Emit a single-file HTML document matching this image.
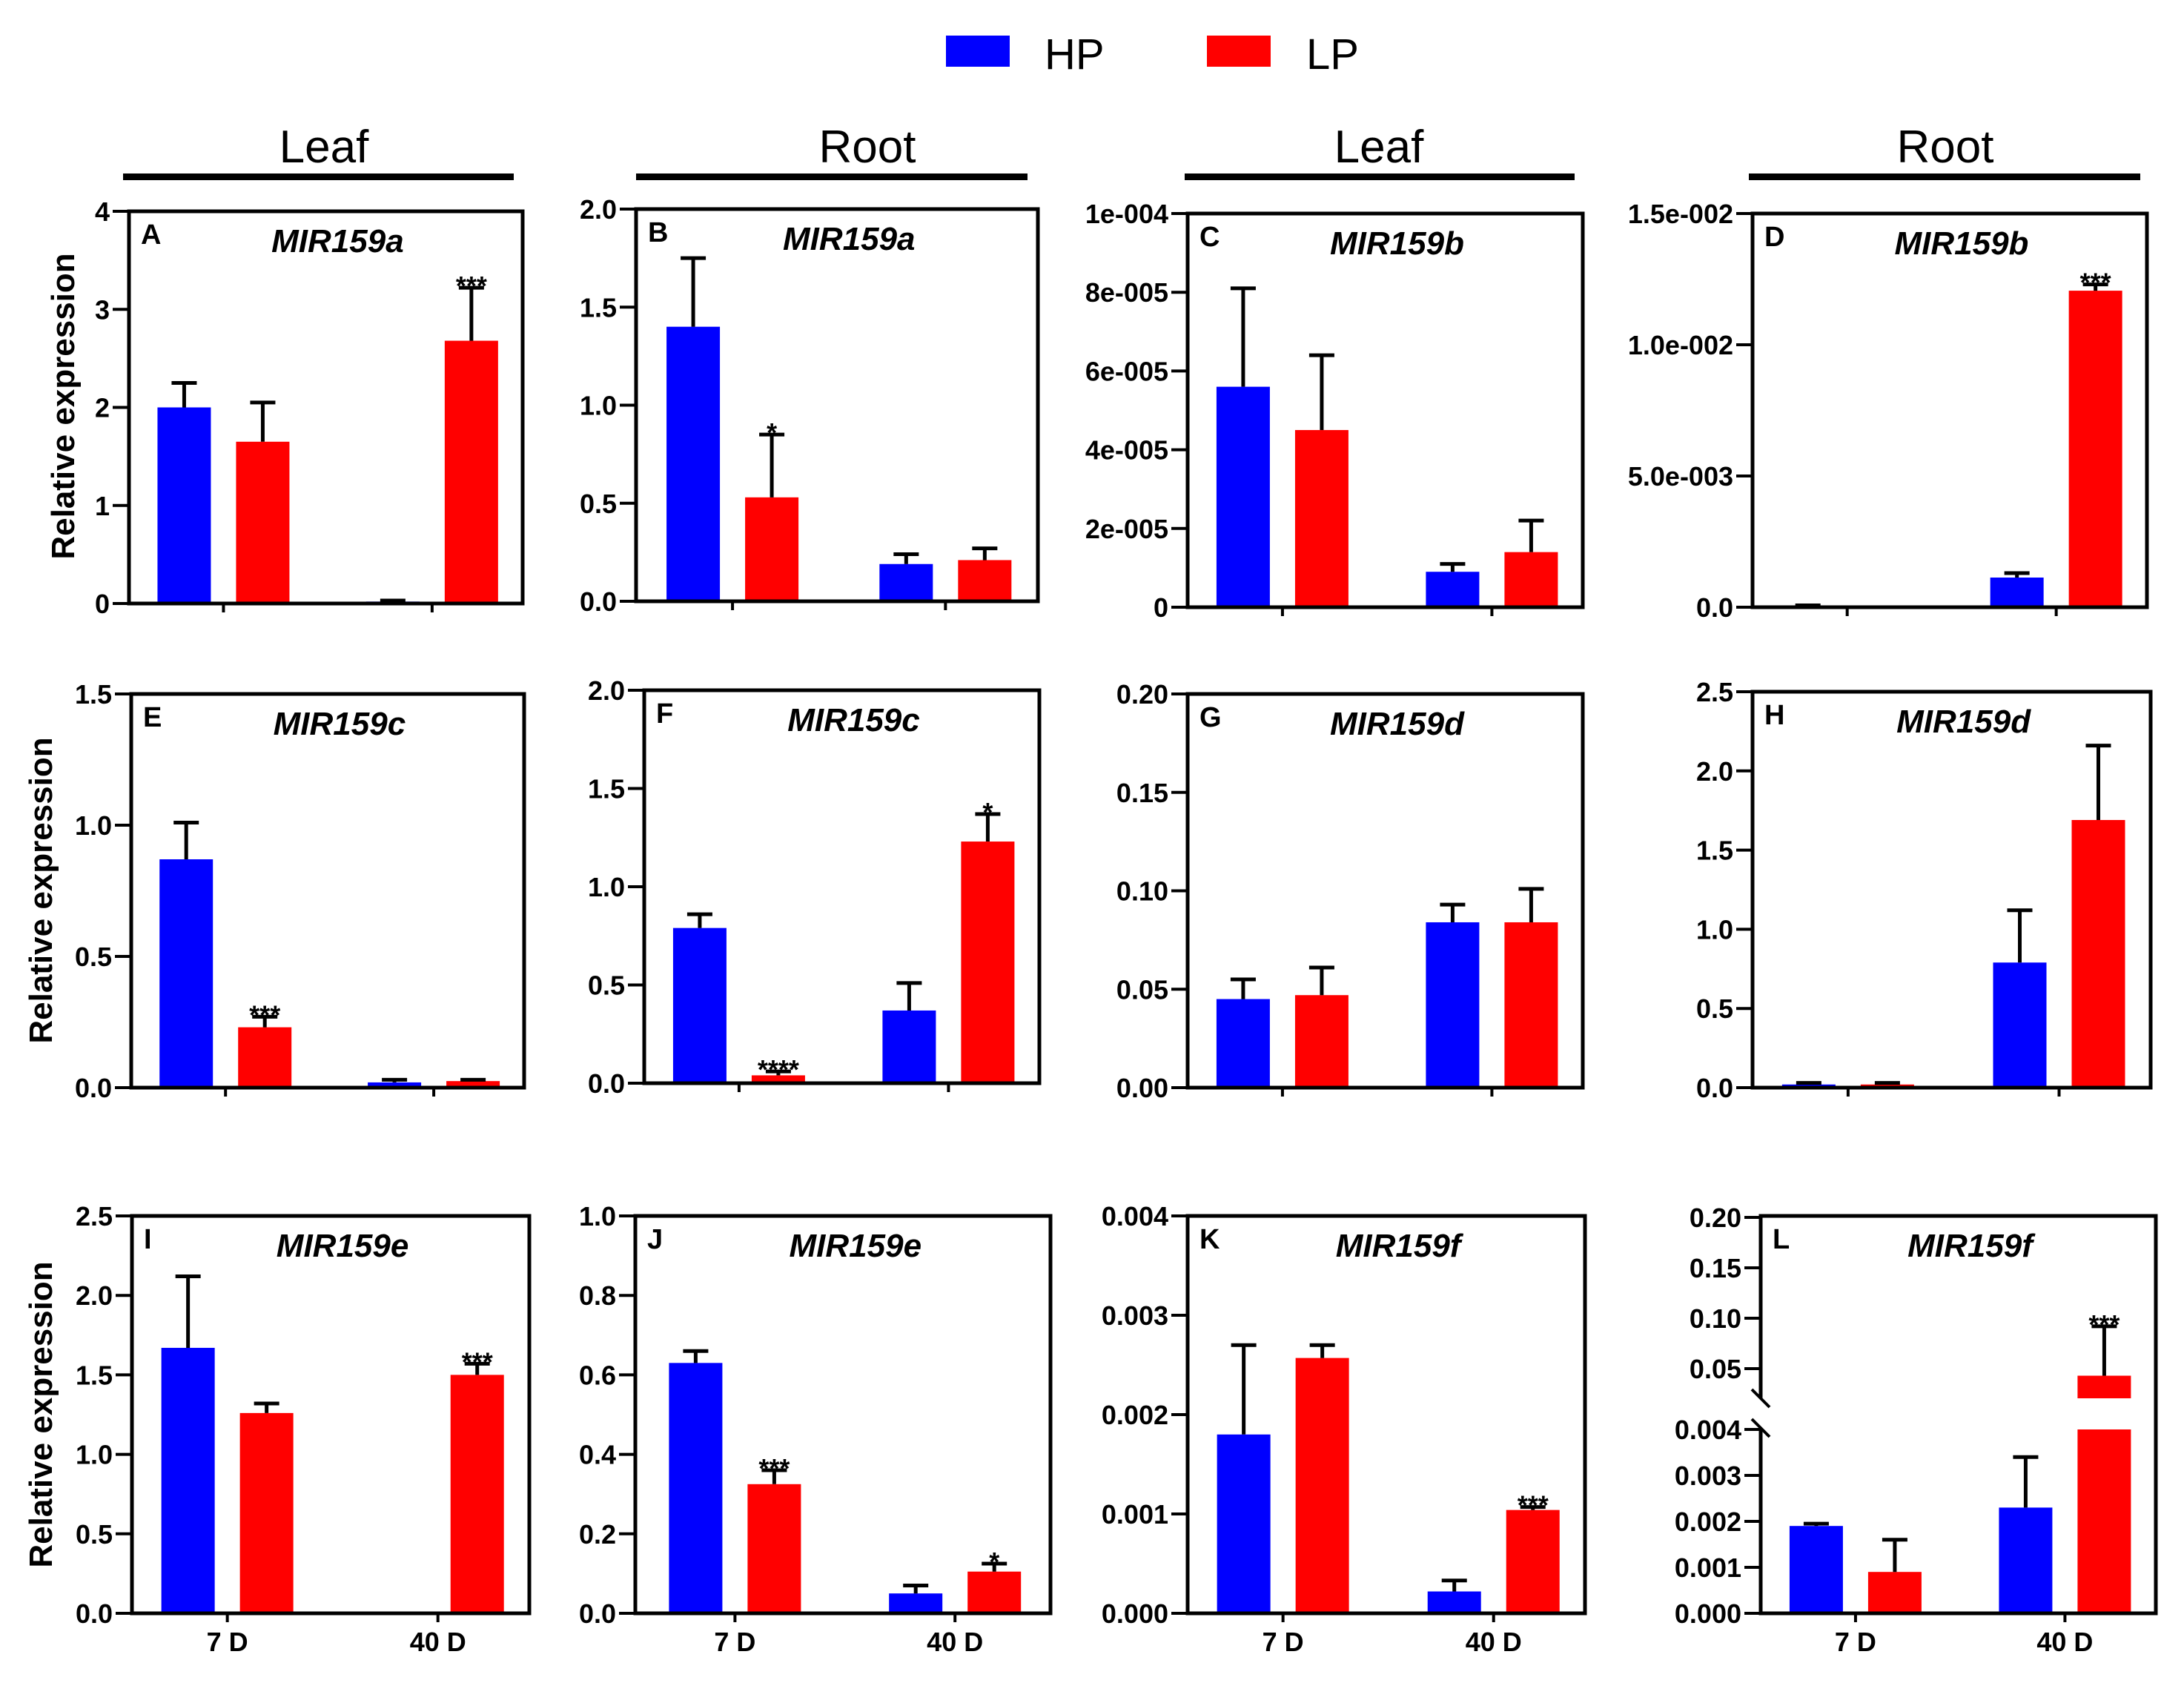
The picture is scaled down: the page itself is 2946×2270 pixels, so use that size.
<!DOCTYPE html>
<html><head><meta charset="utf-8"><style>
html,body{margin:0;padding:0;background:#fff;}
svg{display:block;font-family:"Liberation Sans",Arial,sans-serif;}
</style></head><body>
<svg id="fig" xmlns="http://www.w3.org/2000/svg" width="2946" height="2270" viewBox="0 0 2946 2270">
<g>
<rect x="1276" y="48" width="86" height="42" fill="#0000ff"/>
<text x="1409" y="93" font-size="58">HP</text>
<rect x="1628" y="48" width="86" height="42" fill="#ff0000"/>
<text x="1762" y="93" font-size="58">LP</text>
</g>
<g>
<text x="437" y="219" font-size="62" text-anchor="middle">Leaf</text>
<rect x="166" y="234" width="527" height="9" fill="#000"/>
<text x="1170" y="219" font-size="62" text-anchor="middle">Root</text>
<rect x="858" y="234" width="528" height="9" fill="#000"/>
<text x="1860" y="219" font-size="62" text-anchor="middle">Leaf</text>
<rect x="1598" y="234" width="526" height="9" fill="#000"/>
<text x="2624" y="219" font-size="62" text-anchor="middle">Root</text>
<rect x="2359" y="234" width="528" height="9" fill="#000"/>
</g>
<text transform="translate(100,548) rotate(-90)" font-size="44" font-weight="bold" text-anchor="middle">Relative expression</text>
<text transform="translate(70,1201) rotate(-90)" font-size="44" font-weight="bold" text-anchor="middle">Relative expression</text>
<text transform="translate(70,1908) rotate(-90)" font-size="44" font-weight="bold" text-anchor="middle">Relative expression</text>
</svg>
<script>
// ---- data ----
const panelLetters = ["A","B","C","D","E","F","G","H","I","J","K","L"];
const panelTitles = ["MIR159a","MIR159a","MIR159b","MIR159b","MIR159c","MIR159c","MIR159d","MIR159d","MIR159e","MIR159e","MIR159f","MIR159f"];
const categories = ["7 D","40 D"];
const hpValues = [[2.0,0.02],[1.4,0.19],[5.6e-5,0.9e-5],[0.00005,0.00113],[0.87,0.02],[0.79,0.37],[0.045,0.084],[0.02,0.79],[1.67,0],[0.63,0.05],[0.0018,0.00022],[0.0019,0.0023]];
const hpErrors = [[2.25,0.03],[1.75,0.24],[8.1e-5,1.1e-5],[0.00007,0.0013],[1.01,0.03],[0.86,0.51],[0.055,0.093],[0.03,1.12],[2.12,0],[0.66,0.07],[0.0027,0.00033],[0.00195,0.0034]];
const lpValues = [[1.65,2.68],[0.53,0.21],[4.5e-5,1.4e-5],[0,0.01206],[0.23,0.025],[0.04,1.23],[0.047,0.084],[0.02,1.69],[1.26,1.5],[0.325,0.105],[0.00257,0.00104],[0.0009,0.043]];
const lpErrors = [[2.05,3.22],[0.85,0.27],[6.4e-5,2.2e-5],[0,0.0123],[0.27,0.03],[0.06,1.37],[0.061,0.101],[0.03,2.16],[1.32,1.57],[0.36,0.125],[0.0027,0.00107],[0.0016,0.092]];
const hpSig = [["",""],["",""],["",""],["",""],["",""],["",""],["",""],["",""],["",""],["",""],["",""],["",""]];
const lpSig = [["","***"],["*",""],["",""],["","***"],["***",""],["****","*"],["",""],["",""],["","***"],["***","*"],["","***"],["","***"]];
const yMax = [4,2.0,1e-4,0.015,1.5,2.0,0.20,2.5,2.5,1.0,0.004,0.20];
const tickValues = [[0,1,2,3,4],[0,0.5,1,1.5,2],[0,2e-5,4e-5,6e-5,8e-5,1e-4],[0,0.005,0.01,0.015],[0,0.5,1,1.5],[0,0.5,1,1.5,2],[0,0.05,0.1,0.15,0.2],[0,0.5,1,1.5,2,2.5],[0,0.5,1,1.5,2,2.5],[0,0.2,0.4,0.6,0.8,1.0],[0,0.001,0.002,0.003,0.004],[0,0.001,0.002,0.003,0.004,0.05,0.10,0.15,0.20]];
const tickLabels = [["0","1","2","3","4"],["0.0","0.5","1.0","1.5","2.0"],["0","2e-005","4e-005","6e-005","8e-005","1e-004"],["0.0","5.0e-003","1.0e-002","1.5e-002"],["0.0","0.5","1.0","1.5"],["0.0","0.5","1.0","1.5","2.0"],["0.00","0.05","0.10","0.15","0.20"],["0.0","0.5","1.0","1.5","2.0","2.5"],["0.0","0.5","1.0","1.5","2.0","2.5"],["0.0","0.2","0.4","0.6","0.8","1.0"],["0.000","0.001","0.002","0.003","0.004"],["0.000","0.001","0.002","0.003","0.004","0.05","0.10","0.15","0.20"]];

// ---- layout ----
const boxes = [
 [174,285,705,814],[858,282,1400,811],[1602,288,2135,819],[2364,288,2896,819],
 [177,936,707,1467],[869,931,1402,1461],[1602,936,2135,1467],[2364,933,2901,1467],
 [178,1640,714,2176],[857,1640,1417,2176],[1602,1640,2138,2176],[2375,1640,2908,2176]];
const NS="http://www.w3.org/2000/svg";
const svg=document.getElementById("fig");
function mk(tag,attrs,parent){const e=document.createElementNS(NS,tag);for(const k in attrs)e.setAttribute(k,attrs[k]);(parent||svg).appendChild(e);return e;}

function yScaleL(v){
  if(v<=0.004) return 2176 - v/0.004*(2176-1928);
  return 1846 - (v-0.05)*1360;
}

for(let p=0;p<12;p++){
  const [L,T,R,B]=boxes[p]; const w=R-L;
  const g=mk("g",{});
  
  
  const ys = p===11 ? (v=>yScaleL(v)) : (v=>B - v/yMax[p]*(B-T));
  const gc=[L+0.24*w, L+0.77*w];
  for(let c=0;c<2;c++){
    const series=[[hpValues,hpErrors,hpSig,"#0000ff",-53,"hp"],[lpValues,lpErrors,lpSig,"#ff0000",53,"lp"]];
    for(const [vals,errs,sig,col,off,nm] of series){
      const v=vals[p][c], e=errs[p][c], cx=gc[c]+off;
      const yv=ys(v);
      if(p===11 && v>0.004){
        const r1=mk("rect",{x:cx-36,y:1928,width:72,height:B-1928,fill:col},g);
        
        
        const r2=mk("rect",{x:cx-36,y:yv,width:72,height:Math.max(0,1886-yv),fill:col},g);
        
        
      } else {
        const r=mk("rect",{x:cx-36,y:yv,width:72,height:Math.max(0,B-yv),fill:col},g);
        
        
      }
      if(e>v){
        const ye=ys(e);
        const el=mk("path",{d:`M${cx} ${yv}V${ye}M${cx-17} ${ye}H${cx+17}`,stroke:"#000","stroke-width":5,fill:"none"},g);
        
        
      }
      const s=sig[p][c];
      if(s){
        const t=mk("text",{x:cx,y:ys(e)+10,"font-size":36,"font-weight":"bold","text-anchor":"middle"},g);
        t.textContent=s;
        
        
      }
    }
  }
  if(p===11){
    const fr=mk("path",{d:`M${L} 1886V${T}H${R}V${B}H${L}V1926`,stroke:"#000","stroke-width":5,fill:"none"},g);
    
    
    const br=mk("path",{d:`M${L-12} 1874L${L+12} 1898M${L-12} 1914L${L+12} 1938`,stroke:"#000","stroke-width":4,fill:"none"},g);
    
    
  } else {
    const fr=mk("rect",{x:L,y:T,width:w,height:B-T,stroke:"#000","stroke-width":5,fill:"none"},g);
    
    
  }
  tickValues[p].forEach((tv,i)=>{
    const y=ys(tv);
    const tk=mk("line",{x1:L-22,x2:L,y1:y,y2:y,stroke:"#000","stroke-width":4},g);
    
    
    const tl=mk("text",{x:L-26,y:y+13,"font-size":36,"font-weight":"bold","text-anchor":"end"},g);
    tl.textContent=tickLabels[p][i];
    
    
  });
  for(let c=0;c<2;c++){
    const xt=mk("line",{x1:gc[c],x2:gc[c],y1:B,y2:B+12,stroke:"#000","stroke-width":4},g);
    
    
    if(p>=8){
      const xl=mk("text",{x:gc[c],y:B+51,"font-size":36,"font-weight":"bold","text-anchor":"middle"},g);
      xl.textContent=categories[c];
      
      
    }
  }
  const lt=mk("text",{x:L+16,y:T+44,"font-size":38,"font-weight":"bold"},g);
  lt.textContent=panelLetters[p];
  
  
  const tt=mk("text",{x:L+0.53*w,y:T+55,"font-size":44,"font-weight":"bold","font-style":"italic","text-anchor":"middle"},g);
  tt.textContent=panelTitles[p];
  
  
}
</script>
</body></html>
